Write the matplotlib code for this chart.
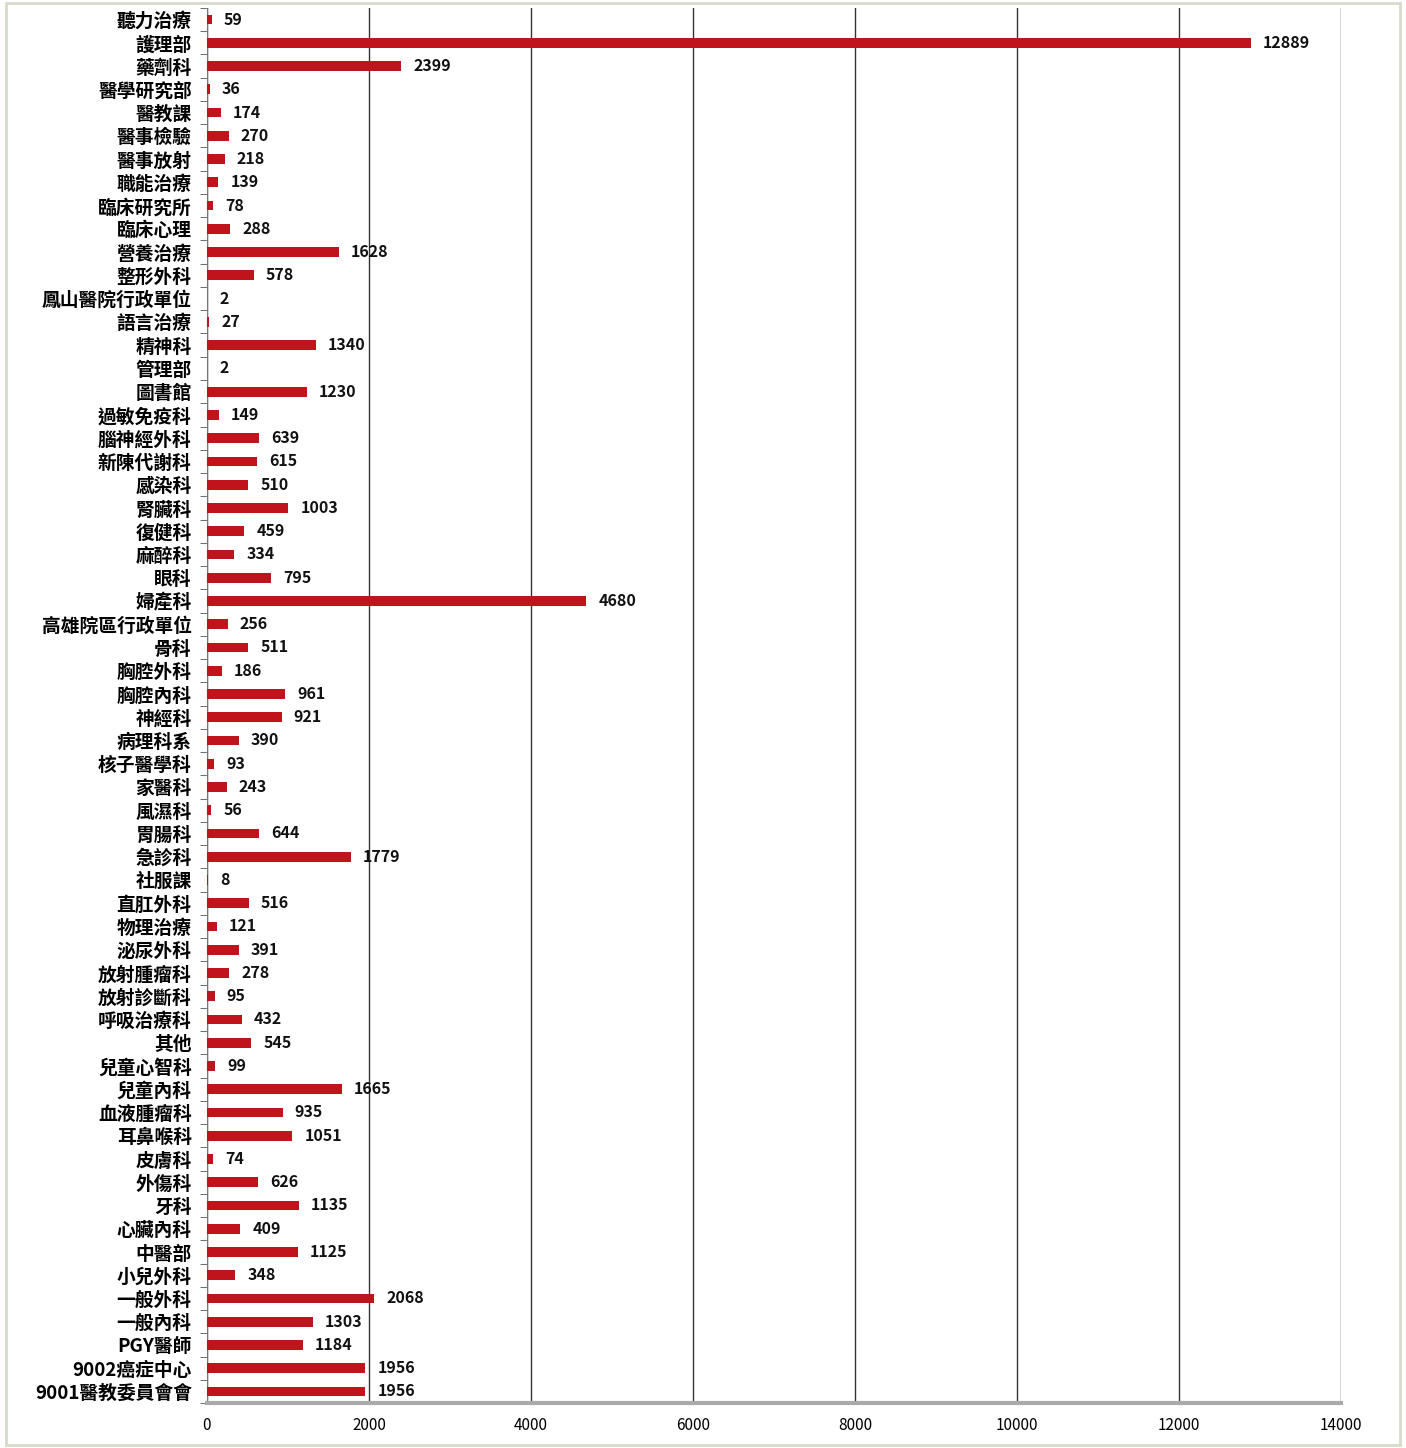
import numpy as np
import matplotlib
matplotlib.use("Agg")
import matplotlib.pyplot as plt
from matplotlib.patches import Rectangle

plt.rcParams['font.family'] = ['Noto Sans CJK TC', 'DejaVu Sans']

departments = [
    "聽力治療", "護理部", "藥劑科", "醫學研究部", "醫教課", "醫事檢驗", "醫事放射",
    "職能治療", "臨床研究所", "臨床心理", "營養治療", "整形外科", "鳳山醫院行政單位",
    "語言治療", "精神科", "管理部", "圖書館", "過敏免疫科", "腦神經外科", "新陳代謝科",
    "感染科", "腎臟科", "復健科", "麻醉科", "眼科", "婦產科", "高雄院區行政單位",
    "骨科", "胸腔外科", "胸腔內科", "神經科", "病理科系", "核子醫學科", "家醫科",
    "風濕科", "胃腸科", "急診科", "社服課", "直肛外科", "物理治療", "泌尿外科",
    "放射腫瘤科", "放射診斷科", "呼吸治療科", "其他", "兒童心智科", "兒童內科",
    "血液腫瘤科", "耳鼻喉科", "皮膚科", "外傷科", "牙科", "心臟內科", "中醫部",
    "小兒外科", "一般外科", "一般內科", "PGY醫師", "9002癌症中心", "9001醫教委員會會",
]
counts = [
    59, 12889, 2399, 36, 174, 270, 218, 139, 78, 288, 1628, 578, 2, 27, 1340, 2,
    1230, 149, 639, 615, 510, 1003, 459, 334, 795, 4680, 256, 511, 186, 961, 921,
    390, 93, 243, 56, 644, 1779, 8, 516, 121, 391, 278, 95, 432, 545, 99, 1665,
    935, 1051, 74, 626, 1135, 409, 1125, 348, 2068, 1303, 1184, 1956, 1956,
]
xticks = [0, 2000, 4000, 6000, 8000, 10000, 12000, 14000]

fig = plt.figure(figsize=(14.06, 14.48), dpi=100)
ax = fig.add_axes([0.1472, 0.031, 0.8066, 0.9635])

# light frame like the original screenshot
fig.patches.append(Rectangle((0.004, 0.002), 0.992, 0.996, transform=fig.transFigure,
                             fill=False, edgecolor="#d6dccb", linewidth=2))

y = np.arange(len(departments))
ax.barh(y, counts, height=0.42, color="#c0141c", zorder=3)
for yi, v in zip(y, counts):
    ax.text(v + 150, yi, str(v), va="center", ha="left", fontsize=11.5,
            fontweight="bold", color="#111111", zorder=4)

ax.set_ylim(len(departments) - 0.5, -0.5)
ax.set_xlim(0, 14000)
ax.set_yticks(y)
ax.set_yticklabels(departments, fontsize=13.5, fontweight="heavy")
ax.set_yticks(np.arange(-0.5, len(departments), 1), minor=True)
ax.tick_params(axis="y", which="major", length=0, pad=11)
ax.tick_params(axis="y", which="minor", length=5, color="#555555")
ax.set_xticks(xticks)
ax.set_xticklabels([str(t) for t in xticks], fontsize=11)
ax.tick_params(axis="x", length=0, pad=10)

ax.grid(axis="x", color="#333333", linewidth=1, zorder=0)
for s in ["top", "right"]:
    ax.spines[s].set_visible(False)
ax.spines["left"].set_color("#777777")
ax.spines["bottom"].set_color("#aaaaaa")
ax.spines["bottom"].set_linewidth(3)

fig.savefig("out.png", dpi=100)
